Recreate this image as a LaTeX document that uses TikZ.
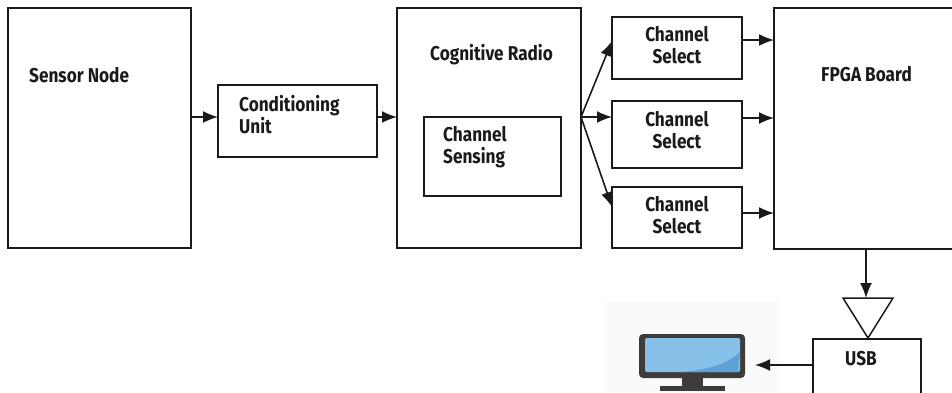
\documentclass[tikz,border=0pt]{standalone}
\usepackage{fontspec}
\setmainfont{Fira Sans}[FakeStretch=0.86]
\usetikzlibrary{arrows.meta}
\definecolor{ink}{HTML}{1A1A1A}
\definecolor{scr}{RGB}{135,192,232}
\definecolor{scrd}{RGB}{92,162,212}
\definecolor{bezel}{RGB}{62,60,58}
\begin{document}
\begin{tikzpicture}[x=1pt,y=-1pt]
\tikzset{
  box/.style={draw=ink, line width=2pt, inner sep=0pt, outer sep=0pt},
  thinbox/.style={draw=ink, line width=1.5pt, inner sep=0pt, outer sep=0pt},
  lbl/.style={font=\bfseries\fontsize{20}{22}\selectfont, inner sep=0pt, text=ink},
  arr/.style={draw=ink, line width=1.6pt, -{Latex[length=15pt,width=12pt]}},
}
\useasboundingbox (0,0) rectangle (952,392);
% boxes
\node[box, minimum width=183pt, minimum height=240pt] (sensor) at (99.5,128) {};
\node[box, minimum width=159pt, minimum height=72pt] (cond) at (297.5,121) {};
\node[box, minimum width=184pt, minimum height=240pt] (cr) at (489,128) {};
\node[thinbox, minimum width=137pt, minimum height=79pt] (cs) at (492.5,156.5) {};
\node[box, minimum width=130pt, minimum height=62pt] (sel1) at (677,48) {};
\node[box, minimum width=130pt, minimum height=67pt] (sel2) at (677,134.5) {};
\node[box, minimum width=130pt, minimum height=61pt] (sel3) at (677,217.5) {};
\node[box, minimum width=188pt, minimum height=241pt] (fpga) at (868,128.5) {};
\node[thinbox, minimum width=108pt, minimum height=61pt] (usb) at (867,369.5) {};
% labels
\node[lbl, anchor=base west] (tsensor) at (29,82) {Sensor Node};
\node[lbl, anchor=north west, align=left] (tcond) at (239,95) {Conditioning\\Unit};
\node[lbl, anchor=base west] (tcr) at (430,60) {Cognitive Radio};
\node[lbl, anchor=north west, align=left] (tcs) at (443,126) {Channel\\Sensing};
\node[lbl, anchor=north, align=center] (tsel1) at (677,26) {Channel\\Select};
\node[lbl, anchor=north, align=center] (tsel2) at (677,111) {Channel\\Select};
\node[lbl, anchor=north, align=center] (tsel3) at (677,196) {Channel\\Select};
\node[lbl, anchor=base west] (tfpga) at (821,81) {FPGA Board};
\node[lbl, anchor=base] (tusb) at (861,365) {USB};
% triangle (buffer)
\coordinate (tri) at (868,298);
\draw[ink, line width=1.5pt, line join=miter] (843,298) -- (893,298) -- (868,338) -- cycle;
% monitor
\fill[black!2] (605,302) rectangle (780,392);
\fill[bezel, rounded corners=4pt] (639,334) rectangle (745,378);
\fill[scr, rounded corners=2pt] (645,338) rectangle (740,372);
\fill[scrd] (740,352) .. controls (725,366) and (705,370) .. (680,372) -- (738,372) -- cycle;
\fill[bezel] (682,377) rectangle (703,387);
\fill[bezel] (660,386) rectangle (725,391);
\coordinate (mon) at (755,365);
% connectors
\draw[arr] (sensor.east |- 0,117) -- (cond.west |- 0,117);
\draw[arr] (cond.east |- 0,117) -- (cr.west |- 0,117);
\draw[arr] (cr.east |- 0,117) -- (sel1.west |- 0,41);
\draw[arr] (cr.east |- 0,117) -- (sel2.west |- 0,117);
\draw[arr] (cr.east |- 0,117) -- (sel3.west |- 0,207);
\draw[arr] (sel1.east |- 0,40) -- (fpga.west |- 0,40);
\draw[arr] (sel2.east |- 0,118) -- (fpga.west |- 0,118);
\draw[arr] (sel3.east |- 0,213) -- (fpga.west |- 0,213);
\draw[arr] (fpga.south -| 866,0) -- (tri -| 866,0);
\draw[arr] (usb.west |- 0,365) -- (mon);
\end{tikzpicture}
\end{document}
